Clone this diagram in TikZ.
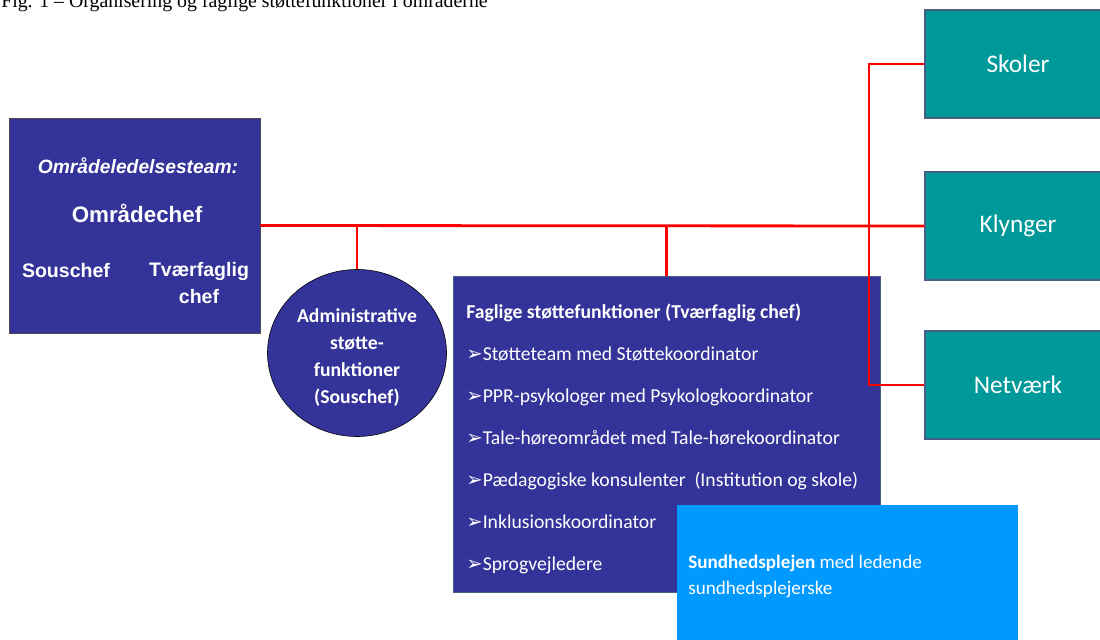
\documentclass[tikz,border=0pt]{standalone}
\usepackage{fontspec}
\setmainfont{Carlito}
\newfontfamily\arialfont{Liberation Sans}
\newfontfamily\timesfont{Liberation Serif}
\newfontfamily\arrowfont{DejaVu Sans}
\usetikzlibrary{shapes.geometric}
\definecolor{navy}{RGB}{51,51,153}
\definecolor{tealbox}{RGB}{0,153,153}
\definecolor{skyblue}{RGB}{0,153,255}
\definecolor{edgeblue}{RGB}{70,95,135}
\newcommand{\pil}{{\arrowfont\fontsize{14}{14}\selectfont ➢}}
\tikzset{
  link/.style={red, line width=2pt},
  navybox/.style={rectangle, draw=edgeblue, fill=navy, inner sep=0pt},
  unitbox/.style={rectangle, draw=edgeblue, line width=0.8pt, fill=tealbox, inner sep=0pt,
    minimum width=4.65cm, minimum height=2.7cm, text=white, font=\fontsize{18}{22}\selectfont},
  whitetext/.style={text=white, inner sep=0pt}
}
\begin{document}
\begin{tikzpicture}[x=0.025cm, y=-0.025cm]
\useasboundingbox (0,0) rectangle (1100,639);
% Title (cut at the top)
\node[anchor=base west, inner sep=0pt, font=\timesfont\fontsize{14.1}{16}\selectfont] (title) at (1,7)
  {Fig. 1 – Organisering og faglige støttefunktioner i områderne};
% Leadership team
\node[navybox, draw=black!70, minimum width=6.275cm, minimum height=5.375cm] (lead) at (134.5,225.5) {};
\node[whitetext, anchor=base, font=\arialfont\bfseries\itshape\fontsize{13.7}{16}\selectfont] (team) at (138,173) {Områdeledelsesteam:};
\node[whitetext, anchor=base, font=\arialfont\bfseries\fontsize{15.9}{18}\selectfont] (chef) at (137,222) {Områdechef};
\node[whitetext, anchor=base, font=\arialfont\bfseries\fontsize{13.9}{16}\selectfont] (sous) at (66,277) {Souschef};
\node[whitetext, anchor=base, align=center, font=\arialfont\bfseries\fontsize{13.9}{18.5}\selectfont] (tvaer) at (199,303) {Tværfaglig\\chef};
% Administrative support
\node[ellipse, draw=black, fill=navy, minimum width=4.475cm, minimum height=4.175cm, inner sep=0pt,
  text=white, align=center, font=\bfseries\fontsize{14}{19}\selectfont] (admin) at (357,353) {};
\node[whitetext, anchor=base, align=center, font=\bfseries\fontsize{14}{19}\selectfont] (admintext) at (357,403)
  {Administrative\\støtte-\\funktioner\\(Souschef)};
% Professional support
\node[navybox, minimum width=10.675cm, minimum height=7.9cm] (fag) at (666.5,434) {};
\node[whitetext, anchor=base west, font=\bfseries\fontsize{14}{17}\selectfont] (fagtitle) at (466,318)
  {Faglige støttefunktioner (Tværfaglig chef)};
\foreach \punkt [count=\i] in {Støtteteam med Støttekoordinator,
    PPR-psykologer med Psykologkoordinator,
    Tale-høreområdet med Tale-hørekoordinator,
    Pædagogiske konsulenter\ \ (Institution og skole),
    Inklusionskoordinator,
    Sprogvejledere}
  \node[whitetext, anchor=base west, font=\fontsize{14}{17}\selectfont] (punkt\i) at (466,318+42*\i) {\pil\punkt};
% Health visitors
\node[rectangle, fill=skyblue, inner sep=0pt, minimum width=8.525cm, minimum height=3.5cm] (sund) at (847.5,575) {};
\node[whitetext, anchor=base west, align=left, font=\fontsize{13.6}{18.2}\selectfont] (sundtext) at (688,594)
  {\textbf{Sundhedsplejen} med ledende\\sundhedsplejerske};
% Units on the right
\node[unitbox] (skoler) at (1018,64) {Skoler};
\node[unitbox] (klynger) at (1018,226) {Klynger};
\node[unitbox] (netvaerk) at (1018,385) {Netværk};
% Connectors
\coordinate (bus) at (869,226);
\draw[link] (lead.east) -- (klynger.west);
\draw[link] (admin.north) -- (admin.north |- lead.east);
\draw[link] (fag.north) -- (fag.north |- lead.east);
\draw[link] (skoler.west) -| (bus) |- (netvaerk.west);
\end{tikzpicture}
\end{document}
